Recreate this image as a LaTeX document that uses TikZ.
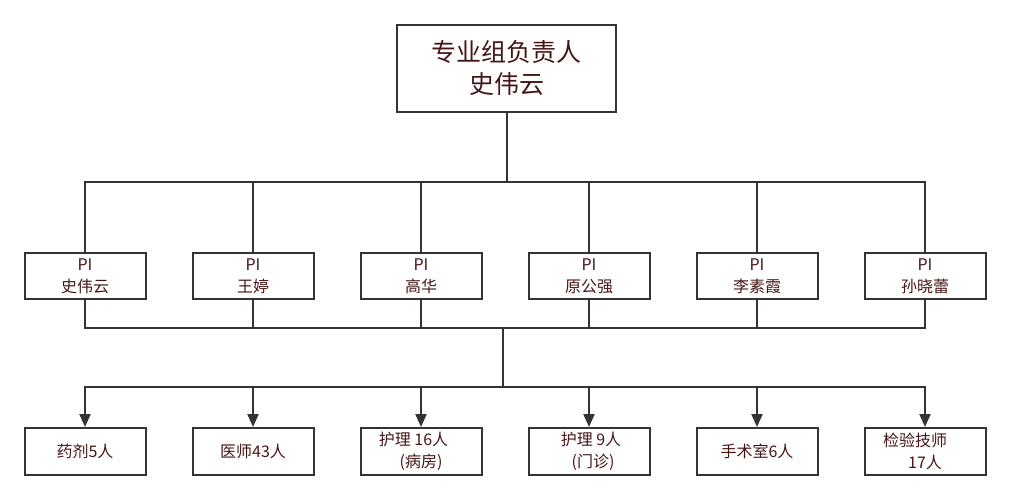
\documentclass[tikz,border=0pt]{standalone}
\usepackage{fontspec}
\setmainfont{Noto Sans CJK SC}
\usetikzlibrary{arrows.meta}
\definecolor{txt}{RGB}{70,22,22}
\definecolor{ln}{RGB}{51,51,51}
\tikzset{
  box/.style={draw=ln, line width=2pt, minimum width=121pt, minimum height=46pt, inner sep=0pt, align=center, text=txt, font=\fontsize{16pt}{22pt}\selectfont},
  topbox/.style={box, minimum width=219pt, minimum height=87pt, font=\fontsize{25pt}{32pt}\selectfont},
  conn/.style={draw=ln, line width=2pt},
  arr/.style={conn, -{Triangle[width=11pt,length=13pt]}}
}
\begin{document}
\begin{tikzpicture}[x=1pt,y=-1pt]
\useasboundingbox (0,0) rectangle (1010,499);
\node[topbox] (top) at (506.5,68.5) {专业组负责人\\史伟云};
\node[box] (p1) at (85,276) {PI\\史伟云};
\node[box] (p2) at (253,276) {PI\\王婷};
\node[box] (p3) at (421,276) {PI\\高华};
\node[box] (p4) at (589,276) {PI\\原公强};
\node[box] (p5) at (757,276) {PI\\李素霞};
\node[box] (p6) at (925,276) {PI\\孙晓蕾};
\node[box, minimum height=47pt] (b1) at (85,451.5) {药剂5人};
\node[box, minimum height=47pt] (b2) at (253,451.5) {医师43人};
\node[box, minimum height=47pt] (b3) at (421,451.5) {护理 16人\hspace*{15pt}\\(病房)};
\node[box, minimum height=47pt] (b4) at (589,451.5) {\hspace*{4pt}护理 9人\\\hspace*{8pt}(门诊)};
\node[box, minimum height=47pt] (b5) at (757,451.5) {手术室6人};
\node[box, minimum height=47pt] (b6) at (925,451.5) {检验技师\hspace*{20pt}\\17人};
\coordinate (bus1) at (506.5,182);
\coordinate (bus2) at (503,328);
\coordinate (bus3) at (503,387);
\draw[conn] (top.south) -- (bus1);
\foreach \i in {1,...,6}{
  \draw[conn] (p\i.north) |- (bus1);
  \draw[conn] (p\i.south) |- (bus2);
  \draw[arr] (bus3) -| (b\i.north);
}
\draw[conn] (bus2) -- (bus3);
\end{tikzpicture}
\end{document}
